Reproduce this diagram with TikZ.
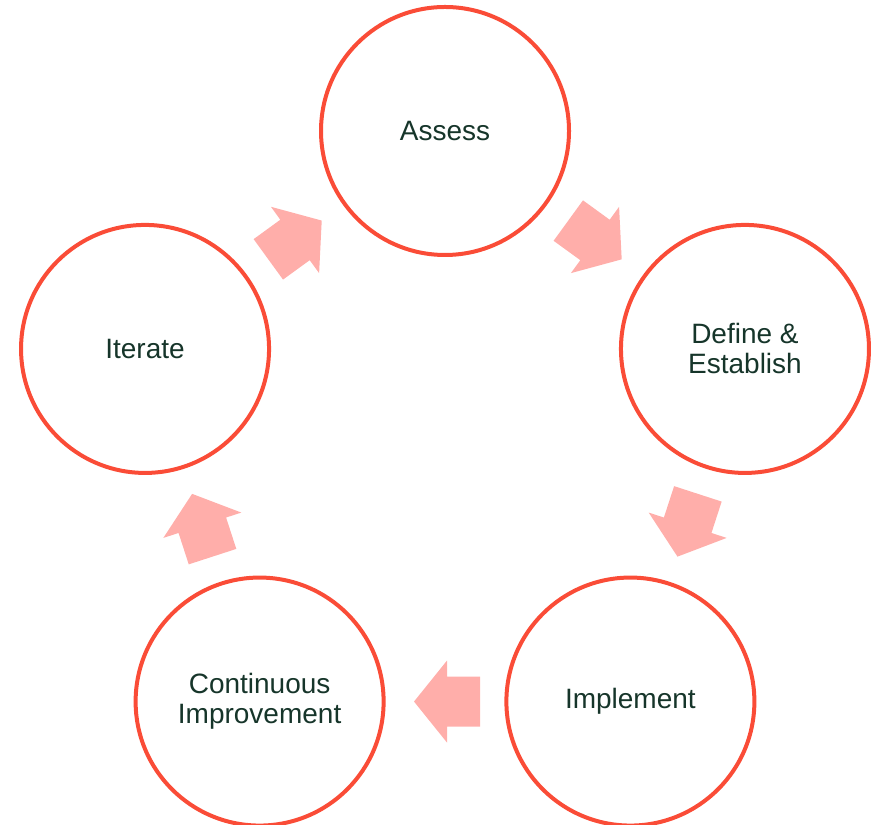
\documentclass[tikz,border=0pt]{standalone}
\usepackage{fontspec}
\setmainfont{Liberation Sans}
\usetikzlibrary{calc}
\definecolor{ringred}{HTML}{FA4C37}
\definecolor{arrowpink}{HTML}{FFAEAA}
\definecolor{labelgreen}{HTML}{16352A}
\tikzset{
	stage/.style={circle, draw=ringred, line width=4pt, minimum size=248pt, inner sep=0pt, align=center, text=labelgreen, font=\fontsize{28}{30}\selectfont},
	flow/.pic={\fill[arrowpink] (33,0) -- (0,41) -- (0,25) -- (-33,25) -- (-33,-25) -- (0,-25) -- (0,-41) -- cycle;}
}
\begin{document}
\begin{tikzpicture}[x=1pt, y=1pt]
		\useasboundingbox (0,0) rectangle (874,824);
		\coordinate (hub) at (445,377.6);
		% the five stages
		\node[stage] (assess) at ($(hub)+(90:315.4)$) {Assess};
		\node[stage] (define) at ($(hub)+(18:315.4)$) {Define \&\\Establish};
		\node[stage] (implement) at ($(hub)+(-54:315.4)$) {Implement};
		\node[stage] (improve) at ($(hub)+(-126:315.4)$) {Continuous\\Improvement};
		\node[stage] (iterate) at ($(hub)+(162:315.4)$) {Iterate};
		% block arrows between them
		\pic[rotate=-36] at ($(assess)!0.5!(define)$) {flow};
		\pic[rotate=-108] at ($(define)!0.5!(implement)$) {flow};
		\pic[rotate=180] at ($(implement)!0.5!(improve)+(2,0)$) {flow};
		\pic[rotate=108] at ($(improve)!0.5!(iterate)$) {flow};
		\pic[rotate=36] at ($(iterate)!0.5!(assess)$) {flow};
	\end{tikzpicture}
\end{document}
